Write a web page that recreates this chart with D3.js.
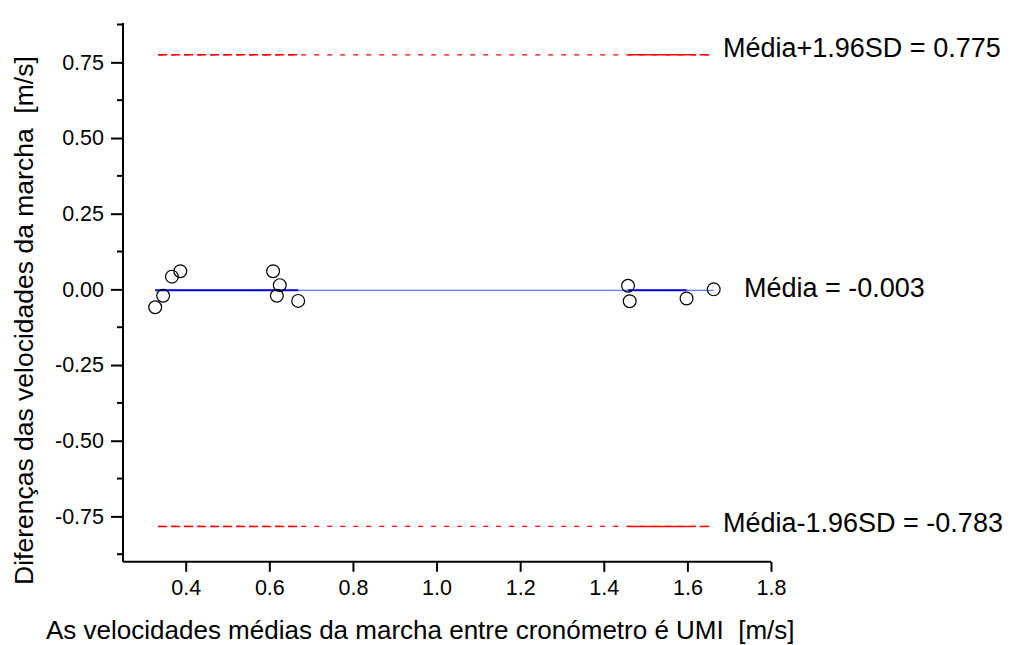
<!DOCTYPE html>
<html lang="pt">
<head>
    <meta charset="UTF-8">
    <title>Bland-Altman</title>
    <script src="https://d3js.org/d3.v7.min.js"></script>
    <style>
        body { margin: 0; background: #fff; }
        svg { display: block; font-family: "Liberation Sans", Arial, sans-serif; }
        svg text { white-space: pre; }
    </style>
</head>
<body>
<div id="chart"></div>
<script>
    // Médias (x) e diferenças (y) das velocidades
    const meanSpeed = [0.327, 0.346, 0.367, 0.387, 0.609, 0.618, 0.625, 0.669, 1.458, 1.462, 1.598, 1.663];
    const diffSpeed = [-0.059, -0.021, 0.042, 0.060, 0.060, -0.021, 0.014, -0.038, 0.012, -0.039, -0.030, 0.000];

    const meanDiff = -0.003;
    const upperLoA = 0.775;
    const lowerLoA = -0.783;

    const xTicks = [0.4, 0.6, 0.8, 1.0, 1.2, 1.4, 1.6, 1.8];
    const yTicks = [-0.75, -0.50, -0.25, 0.00, 0.25, 0.50, 0.75];
    const yMinor = [-0.875, -0.625, -0.375, -0.125, 0.125, 0.375, 0.625, 0.875];

    const width = 1014, height = 645;
    const font = '"Liberation Sans", Arial, sans-serif';
    const svg = d3.select("#chart").append("svg")
        .attr("width", width)
        .attr("height", height);

    const x = d3.scaleLinear().domain([0.25, 1.8]).range([123, 771]);
    const y = d3.scaleLinear().domain([-0.9, 0.88]).range([561.8, 23]);

    const hyphen = f => d => f(d).replace("\u2212", "-");

    // eixo y
    const yAxis = svg.append("g")
        .attr("transform", `translate(${x(0.25)},0)`)
        .call(d3.axisLeft(y).tickValues(yTicks).tickFormat(hyphen(d3.format(".2f"))).tickSize(12).tickPadding(7))
        .call(g => g.select(".domain").attr("d", `M0,${y(-0.9)}V${y(0.88)}`));
    yAxis.attr("font-family", font).attr("font-size", 21.5);
    yAxis.selectAll(".tick text").attr("fill", "#000");
    yAxis.selectAll("line, path").attr("stroke", "#000").attr("stroke-width", 2);
    yAxis.selectAll(".minor").data(yMinor).join("line")
        .attr("class", "minor")
        .attr("x1", 0).attr("x2", -6)
        .attr("y1", d => y(d)).attr("y2", d => y(d))
        .attr("stroke", "#000").attr("stroke-width", 2);

    // eixo x
    const xAxis = svg.append("g")
        .attr("transform", `translate(0,${y(-0.9)})`)
        .call(d3.axisBottom(x).tickValues(xTicks).tickFormat(d3.format(".1f")).tickSize(10).tickPadding(8))
        .call(g => g.select(".domain").attr("d", `M${x(0.25)},0H${x(1.8)}`));
    xAxis.attr("font-family", font).attr("font-size", 21.5);
    xAxis.selectAll(".tick text").attr("fill", "#000");
    xAxis.selectAll("line, path").attr("stroke", "#000").attr("stroke-width", 2);

    const xs = d3.extent(meanSpeed);

    // linhas de limites (tracejadas)
    [upperLoA, lowerLoA].forEach(v => {
        svg.append("line")
            .attr("x1", x(xs[0]) + 3).attr("x2", x(xs[1]) - 2)
            .attr("y1", y(v)).attr("y2", y(v))
            .attr("stroke", "#ff0000").attr("stroke-width", 1.3)
            .attr("stroke-dasharray", "5,8");
        svg.append("line")
            .attr("x1", x(xs[0]) + 3).attr("x2", x(0.669))
            .attr("y1", y(v)).attr("y2", y(v))
            .attr("stroke", "#ff0000").attr("stroke-width", 1.5)
            .attr("stroke-dasharray", "9,4");
        svg.append("line")
            .attr("x1", x(1.458)).attr("x2", x(1.598))
            .attr("y1", y(v)).attr("y2", y(v))
            .attr("stroke", "#ff0000").attr("stroke-width", 1.5);
        svg.append("line")
            .attr("x1", x(1.598)).attr("x2", x(xs[1]) - 2)
            .attr("y1", y(v)).attr("y2", y(v))
            .attr("stroke", "#ff0000").attr("stroke-width", 1.5)
            .attr("stroke-dasharray", "9,4");
    });

    // linha da média
    svg.append("line")
        .attr("x1", x(xs[0])).attr("x2", x(xs[1]))
        .attr("y1", y(meanDiff)).attr("y2", y(meanDiff))
        .attr("stroke", "#3355ff").attr("stroke-width", 1);
    [[xs[0], 0.669], [1.458, 1.598]].forEach(r => {
        svg.append("line")
            .attr("x1", x(r[0])).attr("x2", x(r[1]))
            .attr("y1", y(meanDiff)).attr("y2", y(meanDiff))
            .attr("stroke", "#0000ee").attr("stroke-width", 2);
    });

    // pontos
    svg.append("g").selectAll("circle")
        .data(meanSpeed.map((m, i) => [m, diffSpeed[i]]))
        .join("circle")
        .attr("cx", d => x(d[0]))
        .attr("cy", d => y(d[1]))
        .attr("r", 6.4)
        .attr("fill", "none")
        .attr("stroke", "#000")
        .attr("stroke-width", 1.2);

    // rótulos
    const labels = [
        { v: upperLoA, t: "Média+1.96SD = 0.775", lx: 723, off: 2 },
        { v: meanDiff, t: "Média = -0.003", lx: 744, off: 6.5 },
        { v: lowerLoA, t: "Média-1.96SD = -0.783", lx: 723, off: 6 }
    ];
    svg.selectAll(".lbl").data(labels).join("text")
        .attr("class", "lbl")
        .attr("x", d => d.lx)
        .attr("y", d => y(d.v) + d.off)
        .attr("font-size", 27)
        .attr("fill", "#000")
        .text(d => d.t);

    // títulos dos eixos
    svg.append("text")
        .attr("transform", "translate(32.5,585) rotate(-90)")
        .attr("font-size", 26.5)
        .text("Diferenças das velocidades da marcha  [m/s]");

    svg.append("text")
        .attr("x", 46)
        .attr("y", 639)
        .attr("font-size", 26)
        .text("As velocidades médias da marcha entre cronómetro é UMI  [m/s]");
</script>
</body>
</html>
